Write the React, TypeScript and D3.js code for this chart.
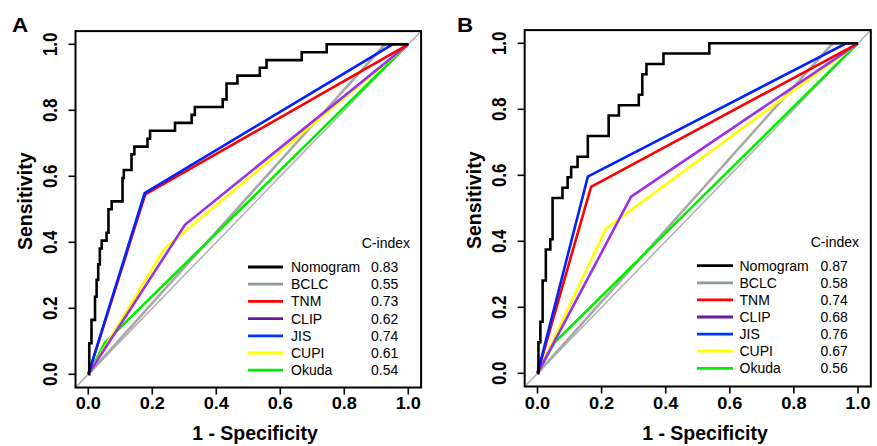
import React from "react";
import * as d3 from "d3";

// ---------- data ----------
const models = ["Nomogram", "BCLC", "TNM", "CLIP", "JIS", "CUPI", "Okuda"];
const cIndexA = ["0.83", "0.55", "0.73", "0.62", "0.74", "0.61", "0.54"];
const cIndexB = ["0.87", "0.58", "0.74", "0.68", "0.76", "0.67", "0.56"];
const axisTicks = [0, 0.2, 0.4, 0.6, 0.8, 1.0];

// Panel A (points: [1 - specificity, sensitivity])
const nomogramA: [number, number][] = [
  [0, 0], [0.003, 0.094], [0.01, 0.165], [0.021, 0.235], [0.026, 0.286], [0.031, 0.333],
  [0.036, 0.381], [0.042, 0.405], [0.057, 0.429], [0.063, 0.5], [0.073, 0.524],
  [0.107, 0.595], [0.111, 0.619], [0.135, 0.667], [0.144, 0.69], [0.185, 0.714],
  [0.193, 0.738], [0.271, 0.762], [0.323, 0.786], [0.333, 0.81], [0.42, 0.833],
  [0.432, 0.881], [0.466, 0.905], [0.536, 0.929], [0.557, 0.952], [0.667, 0.976],
  [0.745, 1.0], [1, 1],
];
const bclcA: [number, number][] = [[0, 0], [0.927, 1.0], [1, 1]];
const tnmA: [number, number][] = [[0, 0], [0.178, 0.545], [1, 1]];
const clipA: [number, number][] = [[0, 0], [0.302, 0.453], [1, 1]];
const jisA: [number, number][] = [[0, 0], [0.176, 0.549], [0.951, 1.0], [1, 1]];
const cupiA: [number, number][] = [[0, 0], [0.238, 0.381], [1, 1]];
const okudaA: [number, number][] = [[0, 0], [0.052, 0.096], [1, 1]];

// Panel B
const nomogramB: [number, number][] = [
  [0, 0], [0.003, 0.094], [0.009, 0.156], [0.016, 0.281], [0.026, 0.375], [0.04, 0.406],
  [0.047, 0.531], [0.078, 0.5625], [0.094, 0.594], [0.105, 0.625], [0.125, 0.656],
  [0.157, 0.719], [0.222, 0.781], [0.254, 0.8125], [0.316, 0.844], [0.327, 0.906],
  [0.34, 0.9375], [0.393, 0.969], [0.536, 1.0], [1, 1],
];
const bclcB: [number, number][] = [[0, 0], [0.921, 1.0], [1, 1]];
const tnmB: [number, number][] = [[0, 0], [0.167, 0.565], [1, 1]];
const clipB: [number, number][] = [[0, 0], [0.292, 0.535], [1, 1]];
const jisB: [number, number][] = [[0, 0], [0.157, 0.596], [0.963, 1.0], [1, 1]];
const cupiB: [number, number][] = [[0, 0], [0.214, 0.439], [1, 1]];
const okudaB: [number, number][] = [[0, 0], [0.053, 0.093], [1, 1]];

// ---------- styles ----------
const modelColors: Record<string, string> = {
  Nomogram: "#000000",
  BCLC: "#a9a9a9",
  TNM: "#ff0000",
  CLIP: "#9b30e8",
  JIS: "#0022ff",
  CUPI: "#ffff00",
  Okuda: "#00ee00",
};
const legendColors: Record<string, string> = {
  Nomogram: "#000000",
  BCLC: "#8e9a9a",
  TNM: "#ff0000",
  CLIP: "#6a1a9a",
  JIS: "#0033ff",
  CUPI: "#ffff00",
  Okuda: "#00ee00",
};
const FONT = "'Liberation Sans', Arial, Helvetica, sans-serif";

type Layout = {
  x0: number; x1: number; y0: number; y1: number;
  label: string; labelX: number; labelY: number;
  yTitleX: number; xTitleX: number;
  legLine0: number; legLine1: number; legText: number; legVal: number; legCIdxEnd: number;
  legY0: number; legDy: number; cIdxY: number;
};

const layoutA: Layout = {
  x0: 88.3, x1: 408.3, y0: 374.3, y1: 44.3,
  label: "A", labelX: 12, labelY: 32,
  yTitleX: 32, xTitleX: 255,
  legLine0: 248, legLine1: 283, legText: 291, legVal: 371, legCIdxEnd: 410,
  legY0: 267, legDy: 17.2, cIdxY: 243,
};
const layoutB: Layout = {
  x0: 537.5, x1: 858, y0: 373.3, y1: 43.3,
  label: "B", labelX: 457, labelY: 32,
  yTitleX: 481, xTitleX: 705,
  legLine0: 697, legLine1: 733, legText: 739.5, legVal: 820.5, legCIdxEnd: 859,
  legY0: 265.7, legDy: 17.1, cIdxY: 242.3,
};

function Panel({ L, series, cidx }: { L: Layout; series: [number, number][][]; cidx: string[] }) {
  const x = d3.scaleLinear().domain([0, 1]).range([L.x0, L.x1]);
  const y = d3.scaleLinear().domain([0, 1]).range([L.y0, L.y1]);
  const bx0 = x(-0.04), bx1 = x(1.04), by0 = y(-0.04), by1 = y(1.04);
  const lineLin = d3.line<[number, number]>().x((d) => x(d[0])).y((d) => y(d[1]));
  const lineStep = d3
    .line<[number, number]>()
    .x((d) => x(d[0]))
    .y((d) => y(d[1]))
    .curve(d3.curveStepAfter);
  const fmt = d3.format(".1f");
  const clipId = "clip" + L.label;
  // draw order: diagonal, BCLC, Okuda, CUPI, CLIP, TNM, JIS, Nomogram
  const order = [1, 6, 5, 3, 2, 4, 0];
  return (
    <g>
      <defs>
        <clipPath id={clipId}>
          <rect x={bx0} y={by1} width={bx1 - bx0} height={by0 - by1} />
        </clipPath>
      </defs>
      <g clipPath={`url(#${clipId})`}>
        <line x1={bx0} y1={by0} x2={bx1} y2={by1} stroke="#b4b4b4" strokeWidth={1.6} />
        {order.map((i) => (
          <path
            key={models[i]}
            d={(i === 0 ? lineStep : lineLin)(series[i]) || ""}
            fill="none"
            stroke={modelColors[models[i]]}
            strokeWidth={2.6}
            strokeLinejoin="miter"
          />
        ))}
      </g>
      <rect x={bx0} y={by1} width={bx1 - bx0} height={by0 - by1} fill="none" stroke="#000" strokeWidth={2} />
      {/* y axis */}
      {axisTicks.map((t) => (
        <g key={"y" + t}>
          <line x1={bx0 - 7} x2={bx0} y1={y(t)} y2={y(t)} stroke="#000" strokeWidth={1.6} />
          <text
            transform={`translate(${bx0 - 18.5},${y(t)}) scale(1.2,1) rotate(-90)`}
            textAnchor="middle"
            fontFamily={FONT}
            fontWeight="bold"
            fontSize={17}
          >
            {fmt(t)}
          </text>
        </g>
      ))}
      {/* x axis */}
      {axisTicks.map((t) => (
        <g key={"x" + t}>
          <line x1={x(t)} x2={x(t)} y1={by0} y2={by0 + 7} stroke="#000" strokeWidth={1.6} />
          <text
            transform={`translate(${x(t)},408.5) scale(1.07,1)`}
            textAnchor="middle"
            fontFamily={FONT}
            fontWeight="bold"
            fontSize={17}
          >
            {fmt(t)}
          </text>
        </g>
      ))}
      <text
        transform={`translate(${L.yTitleX},${(L.y0 + L.y1) / 2 - 8}) rotate(-90)`}
        textAnchor="middle"
        fontFamily={FONT}
        fontWeight="bold"
        fontSize={19.5}
      >
        Sensitivity
      </text>
      <text x={L.xTitleX} y={440} textAnchor="middle" fontFamily={FONT} fontWeight="bold" fontSize={19.5}>
        1 - Specificity
      </text>
      <text
        transform={`translate(${L.labelX},${L.labelY}) scale(1.12,1)`}
        fontFamily={FONT}
        fontWeight="bold"
        fontSize={20}
      >
        {L.label}
      </text>
      {/* legend */}
      <text x={L.legCIdxEnd} y={L.cIdxY + 5} textAnchor="end" fontFamily={FONT} fontSize={14}>
        C-index
      </text>
      {models.map((m, i) => {
        const yy = L.legY0 + i * L.legDy;
        return (
          <g key={"leg" + m}>
            <line x1={L.legLine0} x2={L.legLine1} y1={yy} y2={yy} stroke={legendColors[m]} strokeWidth={2.8} />
            <text x={L.legText} y={yy + 5} fontFamily={FONT} fontSize={14}>
              {m}
            </text>
            <text x={L.legVal} y={yy + 5} fontFamily={FONT} fontSize={14}>
              {cidx[i]}
            </text>
          </g>
        );
      })}
    </g>
  );
}

export default function App() {
  const seriesA = [nomogramA, bclcA, tnmA, clipA, jisA, cupiA, okudaA];
  const seriesB = [nomogramB, bclcB, tnmB, clipB, jisB, cupiB, okudaB];
  return (
    <svg
      width={877}
      height={446}
      style={{ position: "absolute", left: 0, top: 0, background: "#fff" }}
    >
      <rect width={877} height={446} fill="#fff" />
      <Panel L={layoutA} series={seriesA} cidx={cIndexA} />
      <Panel L={layoutB} series={seriesB} cidx={cIndexB} />
    </svg>
  );
}
